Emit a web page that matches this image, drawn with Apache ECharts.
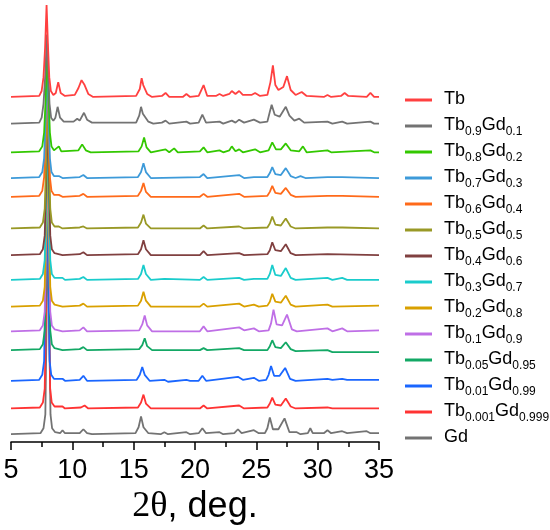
<!DOCTYPE html>
<html>
<head>
<meta charset="utf-8">
<script src="https://cdn.jsdelivr.net/npm/echarts@6/dist/echarts.min.js"></script>
<style>
    html, body { margin: 0; padding: 0; background: #fff; }
    #xrd { width: 550px; height: 530px; }
</style>
</head>
<body>
<div id="xrd"></div>
<script>
// sample names, top to bottom
let names = ["Tb", "Tb0.9Gd0.1", "Tb0.8Gd0.2", "Tb0.7Gd0.3", "Tb0.6Gd0.4", "Tb0.5Gd0.5",
    "Tb0.4Gd0.6", "Tb0.3Gd0.7", "Tb0.2Gd0.8", "Tb0.1Gd0.9", "Tb0.05Gd0.95",
    "Tb0.01Gd0.99", "Tb0.001Gd0.999", "Gd"]

let colors = ["#ff4040", "#737373", "#33c800", "#3d9ad9", "#ff6a1a", "#999926",
    "#804040", "#1acccc", "#d9a000", "#bf6fe6", "#13a865", "#1a66ff", "#ff3333", "#737373"]

// vertical offset of each pattern (stacked plot)
let offsets = [349, 322, 293, 267, 248, 216, 189, 164, 137, 112, 93, 62, 34, 8]

// [2theta, intensity above the offset]
let tb = [[5,0],[7.3,1],[7.5,6],[7.65,20],[7.78,50],[7.9,93],[8.02,50],[8.12,20],[8.25,6],[8.45,2],[8.65,4],[8.85,15],[9.05,4],[9.4,1],[10.2,2],[10.5,9],[10.75,17],[11,12],[11.3,3],[11.7,0],[15.2,1],[15.5,8],[15.65,19],[15.78,12],[15.9,13],[16.1,3],[16.5,0],[17.3,1],[17.6,4],[17.9,0],[19,0],[19.3,3],[19.6,0],[20.3,1],[20.7,12],[21,1],[21.7,1],[22,3],[22.3,1],[22.8,3],[23,6],[23.3,3],[23.6,6],[23.9,2],[24.6,2],[24.9,4],[25.3,1],[25.9,2],[26.15,15],[26.35,32],[26.55,12],[26.8,7],[27.2,10],[27.5,21],[27.8,7],[28.2,2],[28.7,5],[29.1,1],[30.5,0],[30.8,2],[31.1,0],[31.9,1],[32.2,4],[32.5,1],[34,0],[34.3,4],[34.6,0],[35,0]]
let tb09 = [[5,0],[7.3,1],[7.5,6],[7.65,20],[7.8,50],[7.92,90],[8.04,50],[8.14,20],[8.27,6],[8.45,3],[8.62,6],[8.8,17],[9,6],[9.3,2],[10.1,2],[10.4,5],[10.6,3],[10.95,11],[11.2,4],[11.6,1],[15.2,1],[15.45,8],[15.6,17],[15.75,10],[15.9,9],[16.2,2],[16.6,0],[17.3,1],[17.6,3],[17.9,0],[19.3,2],[19.6,0],[20.3,1],[20.6,9],[20.9,1],[22,2],[22.3,0],[23,3],[23.3,1],[23.6,4],[24,1],[24.8,4],[25.3,1],[25.9,2],[26.1,12],[26.25,19],[26.5,9],[26.9,7],[27.4,17],[27.7,8],[28.1,3],[28.5,5],[28.9,1],[30.8,2],[31.2,0],[32,2],[32.4,0],[34.3,2],[34.6,0],[35,0]]
let tb08 = [[5,0],[7.3,1],[7.55,6],[7.7,20],[7.83,55],[7.95,110],[8.07,55],[8.17,20],[8.3,6],[8.5,2],[8.9,6],[9.1,1],[10.5,2],[10.8,8],[11.1,2],[11.5,0],[15.4,1],[15.65,6],[15.85,15],[16.05,5],[16.4,0],[17.6,3],[17.9,0],[18.3,4],[18.6,0],[20.4,1],[20.7,5],[21,0],[22,2],[22.3,0],[22.8,2],[23,6],[23.3,1],[23.6,3],[23.9,0],[24.9,3],[25.3,0],[26,2],[26.3,10],[26.6,3],[27,3],[27.4,9],[27.8,2],[28.5,1],[28.8,6],[29.1,0],[30.8,2],[31.1,0],[34.3,2],[34.6,0],[35,0]]
let tb07 = [[5,0],[7.3,1],[7.55,6],[7.7,20],[7.83,60],[7.95,120],[8.07,60],[8.17,20],[8.3,6],[8.5,2],[8.9,2],[9.2,0],[10.6,1],[10.9,3],[11.2,0],[15.35,1],[15.6,6],[15.8,15],[16,6],[16.4,0],[20.4,1],[20.7,4],[21,0],[23.6,3],[24,0],[24.8,1],[25.9,1],[26.1,5],[26.3,11],[26.55,4],[27,3],[27.4,10],[27.8,2],[28.2,0],[28.6,2],[29,0],[30.8,1],[32,1],[35,0]]
let tb06 = [[5,0],[7.3,1],[7.55,6],[7.7,20],[7.83,65],[7.95,130],[8.07,65],[8.17,20],[8.3,6],[8.5,2],[8.9,2],[9.2,0],[10.6,1],[10.9,3],[11.2,0],[15.35,1],[15.6,6],[15.8,14],[16,5],[16.4,0],[20.4,0],[20.7,3],[21,0],[23.6,3],[24,0],[25.9,1],[26.1,5],[26.3,11],[26.55,4],[27,3],[27.4,9],[27.8,2],[28.2,0],[30.8,1],[32,1],[35,0]]
let tb05 = [[5,0],[7.35,1],[7.6,6],[7.75,20],[7.87,70],[7.98,140],[8.1,70],[8.2,20],[8.33,6],[8.55,2],[8.9,2],[9.2,0],[10.6,1],[10.9,2],[11.2,0],[15.35,1],[15.6,6],[15.8,14],[16,5],[16.4,0],[20.4,0],[20.7,3],[21,0],[23.6,2],[24,0],[25.9,1],[26.1,5],[26.3,12],[26.55,4],[27,3],[27.4,10],[27.8,2],[28.2,0],[30.8,1],[32,1],[35,0]]
let tb04 = [[5,0],[7.35,1],[7.6,6],[7.75,20],[7.87,75],[7.98,150],[8.1,75],[8.2,20],[8.33,6],[8.55,2],[9.2,0],[10.6,1],[10.9,3],[11.2,0],[15.35,1],[15.6,6],[15.8,15],[16,6],[16.4,0],[20.4,0],[20.7,4],[21,0],[23.6,2],[24,0],[25.9,1],[26.1,5],[26.3,13],[26.55,5],[27,4],[27.4,11],[27.8,2],[28.2,0],[30.8,1],[35,0]]
let tb03 = [[5,0],[7.35,1],[7.6,6],[7.75,20],[7.87,80],[7.98,160],[8.1,80],[8.2,20],[8.33,6],[8.55,2],[9.2,2],[9.4,0],[10.6,1],[10.9,3],[11.2,0],[15.35,1],[15.6,6],[15.8,15],[16,6],[16.4,0],[17.5,1],[20.4,0],[20.7,3],[21,0],[23.6,2],[24,0],[24.8,1],[25.9,1],[26.1,6],[26.3,15],[26.55,5],[27,4],[27.4,12],[27.8,2],[28.2,0],[30.8,2],[31.2,0],[32,2],[32.4,0],[35,0]]
let tb02 = [[5,0],[7.35,1],[7.6,6],[7.75,20],[7.87,85],[7.98,170],[8.1,85],[8.2,20],[8.33,6],[8.55,2],[9.2,0],[10.6,1],[10.9,3],[11.2,0],[15.35,1],[15.6,6],[15.8,15],[16,6],[16.4,0],[20.4,0],[20.7,3],[21,0],[23.6,3],[24,0],[24.8,2],[25.2,0],[25.9,1],[26.1,5],[26.3,13],[26.55,5],[27,4],[27.4,11],[27.8,2],[28.2,0],[30.8,2],[31.2,0],[35,1]]
let tb01 = [[5,0],[7.35,1],[7.6,6],[7.75,20],[7.87,90],[7.98,180],[8.1,90],[8.2,20],[8.33,6],[8.55,2],[9.2,0],[10.6,1],[10.9,4],[11.2,0],[15.45,1],[15.7,7],[15.9,16],[16.1,6],[16.5,0],[20.4,0],[20.7,5],[21,0],[23.6,4],[24,1],[24.8,3],[25.2,0],[26,1],[26.2,8],[26.4,22],[26.65,7],[27.1,6],[27.5,17],[27.9,2],[28.3,0],[30.8,3],[31.2,0],[32,3],[32.4,0],[35,1]]
let tb005 = [[5,0],[7.35,1],[7.6,6],[7.75,20],[7.87,95],[7.98,190],[8.1,95],[8.2,20],[8.33,6],[8.55,2],[9.2,0],[10.6,1],[10.9,3],[11.2,0],[15.45,1],[15.7,5],[15.9,12],[16.1,4],[16.5,0],[20.4,0],[20.7,2],[21,0],[23.6,2],[24,0],[25.9,0],[26.1,4],[26.3,10],[26.55,3],[27,2],[27.4,8],[27.8,1],[28.2,-1],[30.8,0],[31.2,-2],[35,-2]]
let tb001 = [[5,0],[7.3,1],[7.55,6],[7.7,20],[7.82,100],[7.93,200],[8.05,100],[8.15,20],[8.28,6],[8.5,2],[9.2,2],[9.4,0],[10.6,1],[10.9,5],[11.2,0],[15.25,1],[15.5,6],[15.7,14],[15.9,6],[16.3,0],[17.5,1],[17.8,-1],[19.3,1],[19.6,0],[20.3,0],[20.6,5],[20.9,0],[23.5,4],[23.9,1],[24.8,3],[25.2,0],[25.8,1],[26,6],[26.2,15],[26.45,5],[26.9,5],[27.35,13],[27.75,2],[28.2,0],[30.8,2],[31.2,1],[32,2],[32.4,1],[35,1]]
let tb0001 = [[5,0],[7.35,1],[7.6,6],[7.75,20],[7.86,105],[7.97,210],[8.09,105],[8.19,20],[8.32,6],[8.55,2],[9.2,2],[9.4,0],[10.7,1],[11,3],[11.3,0],[15.35,1],[15.6,6],[15.8,14],[16,5],[16.4,0],[20.4,0],[20.7,3],[21,0],[23.6,3],[24,0],[25.9,1],[26.1,5],[26.3,11],[26.55,4],[27,3],[27.4,10],[27.8,2],[28.2,0],[30.8,1],[31.2,0],[35,0]]
let gd = [[5,0],[7.4,1],[7.65,6],[7.8,20],[7.9,110],[8,220],[8.12,110],[8.22,20],[8.35,6],[8.6,2],[9,1],[9.2,4],[9.4,1],[10.6,1],[10.9,5],[11.2,1],[11.6,0],[15.15,1],[15.4,7],[15.6,18],[15.8,7],[16.2,1],[17.2,0],[17.5,2],[17.8,0],[19.3,2],[19.6,0],[20.3,1],[20.6,6],[20.9,1],[22,2],[22.3,0],[23.2,1],[23.5,5],[23.8,1],[24.8,4],[25.2,1],[25.7,1],[25.9,6],[26.1,17],[26.35,5],[26.8,5],[27.3,16],[27.7,2],[28.3,2],[28.6,0],[29.2,1],[29.4,6],[29.6,1],[30.5,1],[30.8,4],[31.1,1],[32,3],[32.4,1],[34,3],[34.3,1],[35,1]]

let patterns = [tb, tb09, tb08, tb07, tb06, tb05, tb04, tb03, tb02, tb01, tb005, tb001, tb0001, gd]

let xTicks = [5, 10, 15, 20, 25, 30, 35]

function legendLabel(name) {
    // "Tb0.9Gd0.1" -> Tb{sub 0.9}Gd{sub 0.1}
    let parts = name.split(/([\d.]+)/).filter(p => p !== "")
    let out = ""
    parts.forEach((p, i) => {
        let sub = /^[\d.]+$/.test(p)
        let key = sub ? "s" : (i === 0 ? "f" : "n")
        out += `{${key}|${p}}`
    })
    if (parts.length === 1) out += "{s| }"
    return out
}

let chartDom = document.getElementById("xrd")
let myChart = echarts.init(chartDom)

let series = []
for (let i = patterns.length - 1; i >= 0; i--) {
    series.push({
        name: names[i],
        type: "line",
        symbol: "none",
        color: colors[i],
        lineStyle: { width: 1.8, color: colors[i] },
        data: patterns[i].map(p => [p[0], offsets[i] + p[1]]),
        animation: false
    })
}

let font = "'Liberation Sans', Arial, sans-serif"

let option = {
    backgroundColor: "#fff",
    animation: false,
    grid: { left: 11, right: 171, top: 0, bottom: 83 },
    legend: {
        data: names,
        orient: "vertical",
        left: 400,
        top: 85,
        itemWidth: 27,
        itemHeight: 3,
        itemGap: 4,
        icon: "rect",
        formatter: legendLabel,
        textStyle: {
            color: "#000",
            fontFamily: font,
            rich: {
                f: { fontSize: 18, lineHeight: 20, verticalAlign: "top", padding: [0, 0, 0, 7], fontFamily: font, color: "#000" },
                n: { fontSize: 18, lineHeight: 20, verticalAlign: "top", fontFamily: font, color: "#000" },
                s: { fontSize: 12, lineHeight: 12, verticalAlign: "top", padding: [10, 0, 0, 0], fontFamily: font, color: "#000" }
            }
        }
    },
    xAxis: {
        type: "value",
        min: xTicks[0],
        max: xTicks[xTicks.length - 1],
        interval: xTicks[1] - xTicks[0],
        name: "{t|2θ}{d|, deg.}",
        nameLocation: "middle",
        nameGap: 40,
        nameTextStyle: {
            rich: {
                t: { fontSize: 36, fontFamily: "'Liberation Serif', 'Times New Roman', serif", color: "#000" },
                d: { fontSize: 36, fontFamily: font, color: "#000" }
            }
        },
        axisLine: { onZero: false, lineStyle: { color: "#000", width: 1.5 } },
        axisTick: { length: 8, lineStyle: { color: "#000", width: 1.5 } },
        minorTick: { show: true, splitNumber: 2, length: 5, lineStyle: { color: "#000", width: 1.5 } },
        splitLine: { show: false },
        axisLabel: { fontSize: 27, color: "#000", fontFamily: font, margin: 15 }
    },
    yAxis: {
        type: "value",
        min: 0,
        max: 447,
        show: false,
        splitLine: { show: false }
    },
    series: series
}

option && myChart.setOption(option)
</script>
</body>
</html>
